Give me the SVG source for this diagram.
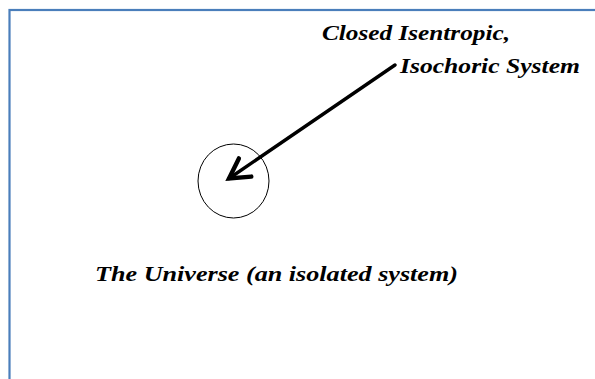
<svg xmlns="http://www.w3.org/2000/svg" width="595" height="379" viewBox="0 0 595 379">
  <defs>
    <style>
      .lbl { font-family: "Liberation Serif", "Times New Roman", serif; font-weight: bold; font-style: italic; fill: #000; }
      .frame { fill: none; stroke: #4a7ebb; stroke-width: 2.2; }
      .conn { stroke: #000; stroke-width: 3.4; fill: none; stroke-linecap: round; }
    </style>
    <marker id="arrow" markerUnits="userSpaceOnUse" markerWidth="30" markerHeight="30" viewBox="-24 -15 28 30" refX="0" refY="0" orient="auto">
      <path d="M -19.5,-11 L 0,0 L -19.5,11" fill="none" stroke="#000" stroke-width="4.4" stroke-linejoin="miter" stroke-linecap="round"/>
    </marker>
  </defs>
  <rect width="595" height="379" fill="#fff"/>
  <rect class="frame" x="9.5" y="10" width="600" height="400"/>

  <g id="system">
    <ellipse cx="233.5" cy="181" rx="35.5" ry="37" fill="none" stroke="#000" stroke-width="1"/>
  </g>

  <g id="label-system">
    <text class="lbl" x="322" y="40" font-size="20" textLength="188" lengthAdjust="spacingAndGlyphs">Closed Isentropic,</text>
    <text class="lbl" x="400" y="73" font-size="20" textLength="180" lengthAdjust="spacingAndGlyphs">Isochoric System</text>
  </g>

  <g id="label-universe">
    <text class="lbl" x="95" y="281" font-size="22" textLength="363" lengthAdjust="spacingAndGlyphs">The Universe (an isolated system)</text>
  </g>

  <g id="connectors">
    <line class="conn" x1="395" y1="65" x2="229" y2="178.5" marker-end="url(#arrow)"/>
  </g>
</svg>
